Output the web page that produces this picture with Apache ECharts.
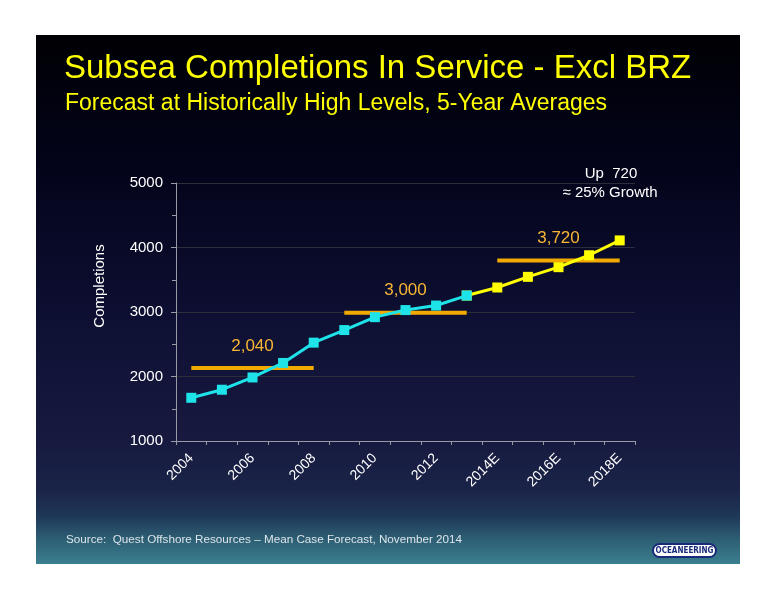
<!DOCTYPE html>
<html>
<head>
<meta charset="utf-8">
<script src="https://cdn.jsdelivr.net/npm/echarts@6/dist/echarts.min.js"></script>
<style>
html,body{margin:0;padding:0;background:#ffffff;}
#c{width:776px;height:600px;}
</style>
</head>
<body>
<div id="c"></div>
<script>
var categories = ['2004','2005','2006','2007','2008','2009','2010','2011','2012','2013','2014E','2015E','2016E','2017E','2018E'];
var historical = [1670,1795,1985,2210,2525,2720,2920,3030,3100,3255,null,null,null,null,null];
var forecast = [null,null,null,null,null,null,null,null,null,3255,3380,3545,3695,3880,4110];
var avgStart = [0,5,10];
var avgEnd = [4,9,14];
var avgLevel = [2130,2990,3800];
var avgLabel = ['2,040','3,000','3,720'];
var avgLabelIdx = [2,7,12];
var yTicks = [1000,2000,3000,4000,5000];

var chart = echarts.init(document.getElementById('c'));
var FONT = '"Liberation Sans", Arial, sans-serif';

var avgSeries = avgLevel.map(function(lv, k){
  var data = categories.map(function(c, i){
    return (i < avgStart[k] || i > avgEnd[k]) ? null : lv;
  });
  return {
    type: 'line', data: data, z: 3, symbol: 'none', connectNulls: false,
    lineStyle: {color: '#f2a900', width: 4},
    silent: true, animation: false
  };
});

var labelSeries = {
  type: 'scatter', z: 6, symbol: 'circle', symbolSize: 1, silent: true,
  itemStyle: {color: '#f5b52e', opacity: 0.01},
  data: avgLevel.map(function(lv, k){
    return {value: [categories[avgLabelIdx[k]], lv], name: avgLabel[k]};
  }),
  label: {show: true, position: 'top', distance: 13, color: '#f7b633', opacity: 1,
          fontSize: 17, fontFamily: FONT,
          formatter: function(p){ return p.name; }}
};

var option = {
  animation: false,
  backgroundColor: 'transparent',
  graphic: [
    {type: 'rect', z: -100, silent: true,
     shape: {x: 36, y: 35, width: 704, height: 529},
     style: {fill: new echarts.graphic.LinearGradient(0,0,0,1,[
       {offset: 0, color: '#000004'},
       {offset: 0.25, color: '#03041a'},
       {offset: 0.55, color: '#0e1034'},
       {offset: 0.76, color: '#17193f'},
       {offset: 0.86, color: '#1a2448'},
       {offset: 0.91, color: '#1f3858'},
       {offset: 0.95, color: '#2c5c72'},
       {offset: 1, color: '#3b7f8f'}
     ])}},
    {type: 'text', left: 64, top: 52, z: 10,
     style: {text: 'Subsea Completions In Service - Excl BRZ', fill: '#ffff00',
             font: '33px ' + FONT}},
    {type: 'text', left: 65, top: 92, z: 10,
     style: {text: 'Forecast at Historically High Levels, 5-Year Averages', fill: '#ffff00',
             font: '23px ' + FONT}},
    {type: 'text', x: 100, y: 286, rotation: Math.PI/2, z: 10,
     style: {text: 'Completions', fill: '#ffffff', font: '15px ' + FONT,
             align: 'center', verticalAlign: 'middle'}},
    {type: 'text', x: 611, y: 174, z: 10,
     style: {text: 'Up  720', fill: '#ffffff', font: '15px ' + FONT,
             align: 'center', verticalAlign: 'middle'}},
    {type: 'text', x: 610, y: 193, z: 10,
     style: {text: '\u2248 25% Growth', fill: '#ffffff', font: '15px ' + FONT,
             align: 'center', verticalAlign: 'middle'}},
    {type: 'text', x: 66, y: 540, z: 10,
     style: {text: 'Source:  Quest Offshore Resources \u2013 Mean Case Forecast, November 2014',
             fill: '#dde4ea', font: '11.7px ' + FONT, verticalAlign: 'middle'}},
    {type: 'rect', z: 10, shape: {x: 653, y: 544, width: 63, height: 13, r: 6.5},
     style: {fill: '#ffffff', stroke: '#1a2a7a', lineWidth: 2}},
    {type: 'text', x: 684.5, y: 550.5, z: 11,
     style: {text: 'OCEANEERING', fill: '#1a2a7a',
             font: 'bold 8px "Liberation Sans Narrow", "DejaVu Sans Condensed", sans-serif',
             align: 'center', verticalAlign: 'middle'}}
  ],
  grid: {left: 176, right: 141, top: 183, bottom: 159, containLabel: false},
  xAxis: {
    type: 'category', data: categories, boundaryGap: true,
    axisLine: {lineStyle: {color: '#9a9aa6', width: 1}},
    axisTick: {show: true, interval: 0, inside: false, length: 4, lineStyle: {color: '#9a9aa6'}},
    axisLabel: {interval: 1, rotate: 45, color: '#ffffff', fontSize: 14,
                fontFamily: FONT, margin: 15},
    splitLine: {show: false}
  },
  yAxis: {
    type: 'value', min: 1000, max: 5000, interval: 1000,
    axisLine: {show: true, lineStyle: {color: '#9a9aa6'}},
    axisTick: {show: true, length: 5, lineStyle: {color: '#9a9aa6'}},
    minorTick: {show: true, splitNumber: 2, length: 4, lineStyle: {color: '#9a9aa6'}},
    axisLabel: {color: '#ffffff', fontSize: 15, fontFamily: FONT, margin: 13,
                formatter: function(v){ return yTicks.indexOf(v) >= 0 ? String(v) : ''; }},
    splitLine: {show: true, lineStyle: {color: '#2c2e3c', width: 1}}
  },
  series: [
    {type: 'line', data: forecast, z: 4, symbol: 'rect', symbolSize: 10,
     lineStyle: {color: '#ffff00', width: 3}, itemStyle: {color: '#ffff00'}},
    {type: 'line', data: historical, z: 5, symbol: 'rect', symbolSize: 10,
     lineStyle: {color: '#1ee4ea', width: 3}, itemStyle: {color: '#1ee4ea'}}
  ].concat(avgSeries, [labelSeries])
};
chart.setOption(option);
</script>
</body>
</html>
